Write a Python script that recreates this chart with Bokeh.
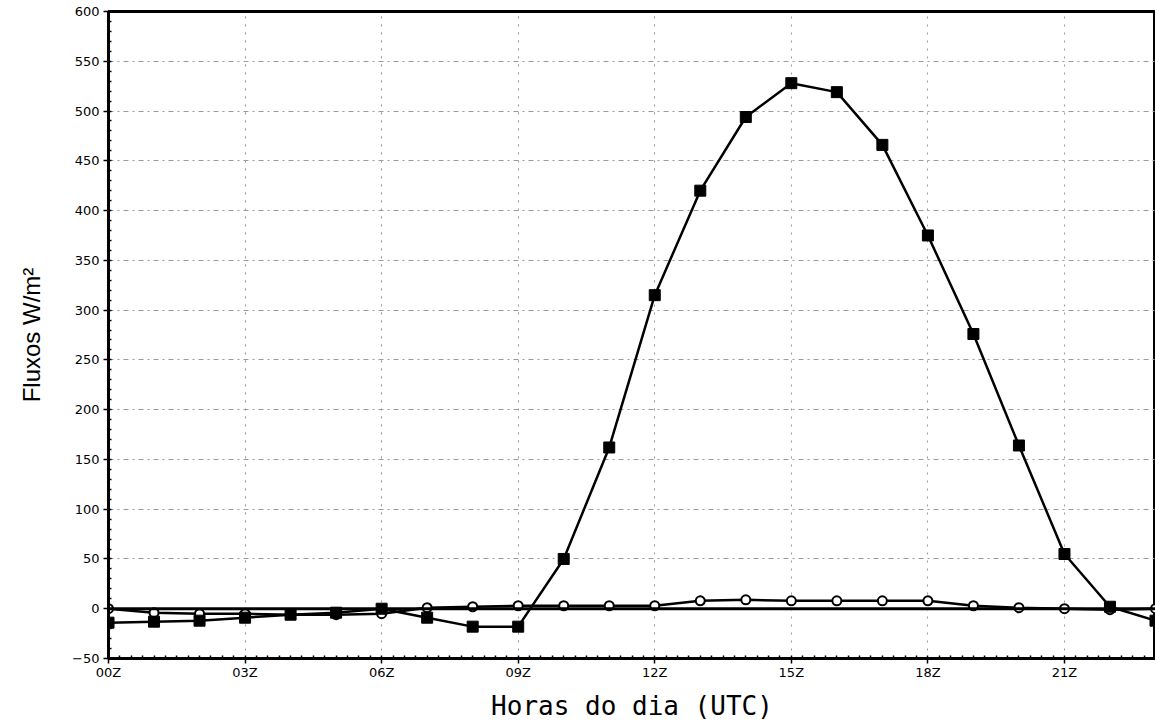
from bokeh.plotting import figure
from bokeh.models import FixedTicker, Range1d, Span
from bokeh.embed import file_html
from bokeh.resources import INLINE

# horas UTC e fluxos (W/m2)
horas = list(range(24))
saldo = [-14, -13, -12, -9, -6, -4, 0, -9, -18, -18, 50, 162, 315, 420,
         494, 528, 519, 466, 375, 276, 164, 55, 2, -12]
fluxo2 = [0, -4, -5, -5, -6, -6, -5, 1, 2, 3, 3, 3, 3, 8,
          9, 8, 8, 8, 8, 3, 1, 0, -1, 0]

xticks = list(range(0, 24, 3))
xlabels = {h: "%02dZ" % h for h in xticks}
yticks = list(range(-50, 601, 50))

p = figure(width=1155, height=723, output_backend="svg", toolbar_location=None,
           x_range=Range1d(0, 23), y_range=Range1d(-50, 600),
           min_border_left=108, min_border_right=0, min_border_top=11,
           min_border_bottom=61)

p.outline_line_color = "black"
p.outline_line_width = 3

p.xaxis.ticker = FixedTicker(ticks=xticks, minor_ticks=[i * 0.25 for i in range(93)])
p.xaxis.major_label_overrides = xlabels
p.yaxis.ticker = FixedTicker(ticks=yticks, minor_ticks=list(range(-50, 601, 10)))
p.yaxis.major_label_overrides = {-50: "\u221250"}

for ax in (p.xaxis, p.yaxis):
    ax.axis_line_width = 3
    ax.major_tick_line_width = 1.5
    ax.major_tick_out = 5
    ax.major_tick_in = 0
    ax.minor_tick_out = 0
    ax.minor_tick_in = 3
    ax.minor_tick_line_width = 1.5
    ax.major_label_text_font = "DejaVu Sans"
    ax.major_label_text_font_size = "13px"
    ax.major_label_text_color = "black"
    ax.axis_label_text_color = "black"

p.xaxis.major_label_standoff = 1
p.yaxis.major_label_standoff = 4
p.xaxis.axis_label = "Horas do dia (UTC)"
p.xaxis.axis_label_text_font = "DejaVu Sans Mono"
p.xaxis.axis_label_text_font_size = "26px"
p.xaxis.axis_label_text_font_style = "normal"
p.xaxis.axis_label_standoff = 8
p.yaxis.axis_label = "Fluxos W/m\u00b2"
p.yaxis.axis_label_text_font = "Liberation Sans"
p.yaxis.axis_label_text_font_size = "24px"
p.yaxis.axis_label_text_font_style = "normal"
p.yaxis.axis_label_standoff = 24

p.xgrid.ticker = FixedTicker(ticks=xticks)
p.ygrid.ticker = FixedTicker(ticks=yticks)
p.xgrid.grid_line_color = "#9a9a9a"
p.xgrid.grid_line_dash = "2 6"
p.ygrid.grid_line_color = "#9a9a9a"
p.ygrid.grid_line_dash = "5 4 2 4"

p.add_layout(Span(location=0, dimension="width", line_color="black", line_width=3))

p.line(horas, fluxo2, line_color="black", line_width=2.5)
p.scatter(horas, fluxo2, marker="circle", size=9, fill_color="white",
          line_color="black", line_width=2)
p.line(horas, saldo, line_color="black", line_width=2.5)
p.scatter(horas, saldo, marker="square", size=11, fill_color="black",
          line_color="black")

open("out.html", "w").write(file_html(p, INLINE))
